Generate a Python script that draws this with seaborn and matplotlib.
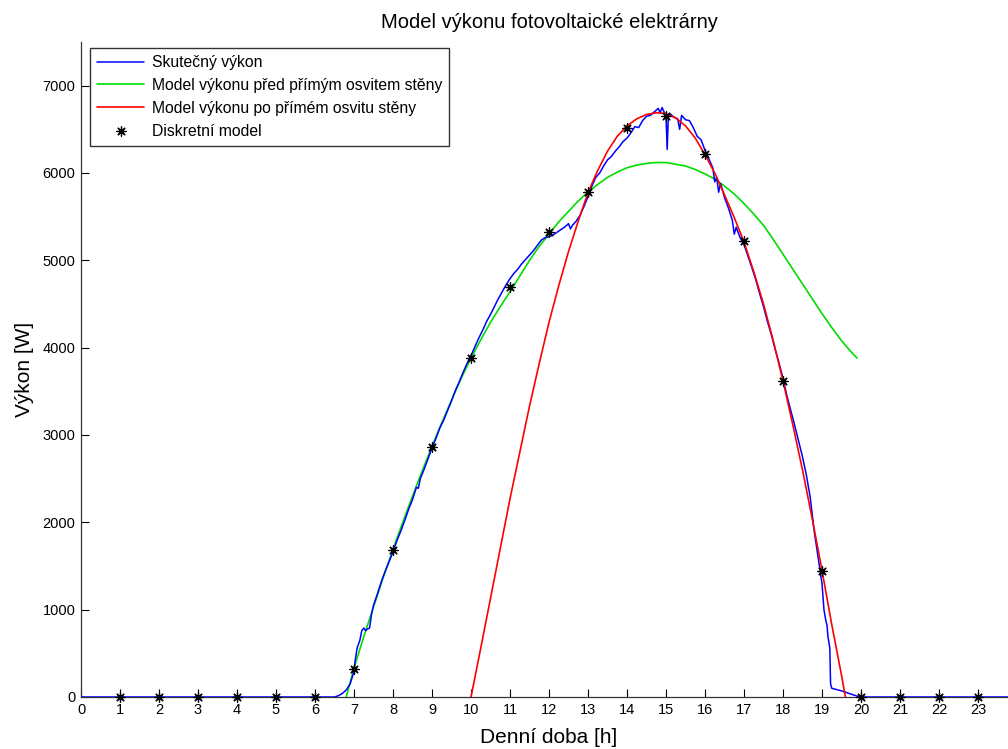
import matplotlib
matplotlib.use("Agg")
import matplotlib.pyplot as plt
import seaborn as sns

# ---- data ----
actual_h = [0, 6.5, 6.6, 6.7, 6.8, 6.9, 6.95, 7.0, 7.03, 7.08, 7.15, 7.2, 7.25, 7.3, 7.35, 7.4, 7.45, 7.5,
            7.6, 7.7, 7.8, 7.9, 8.0, 8.1, 8.2, 8.3, 8.4, 8.5, 8.6, 8.65, 8.7, 8.8, 8.9, 9.0, 9.1, 9.2, 9.3,
            9.4, 9.5, 9.6, 9.7, 9.8, 9.9, 10.0, 10.1, 10.2, 10.3, 10.4, 10.5, 10.6, 10.7, 10.8, 10.9, 11.0,
            11.1, 11.2, 11.3, 11.4, 11.5, 11.6, 11.7, 11.8, 11.9, 12.0, 12.1, 12.2, 12.3, 12.4, 12.5, 12.55,
            12.6, 12.7, 12.8, 12.9, 13.0, 13.1, 13.2, 13.3, 13.4, 13.5, 13.6, 13.7, 13.8, 13.9, 14.0, 14.1,
            14.2, 14.3, 14.4, 14.5, 14.6, 14.7, 14.8, 14.85, 14.9, 14.95, 15.0, 15.03, 15.06, 15.1, 15.2,
            15.3, 15.35, 15.4, 15.5, 15.6, 15.7, 15.8, 15.9, 16.0, 16.1, 16.2, 16.25, 16.3, 16.35, 16.4,
            16.5, 16.6, 16.7, 16.75, 16.8, 16.9, 17.0, 17.1, 17.2, 17.3, 17.4, 17.5, 17.6, 17.7, 17.8, 17.9,
            18.0, 18.1, 18.2, 18.3, 18.4, 18.5, 18.6, 18.7, 18.8, 18.9, 19.0, 19.05, 19.1, 19.13, 19.15,
            19.2, 19.22, 19.25, 19.5, 19.7, 19.9, 20.0, 24.0]
actual_w = [0, 0, 15, 40, 80, 150, 220, 290, 420, 560, 650, 760, 790, 760, 780, 790, 950, 1050,
            1180, 1320, 1440, 1550, 1660, 1790, 1900, 2020, 2150, 2260, 2400, 2390, 2500, 2610, 2730, 2850, 2960, 3080, 3170,
            3280, 3390, 3510, 3610, 3720, 3820, 3910, 4010, 4110, 4200, 4300, 4380, 4470, 4560, 4640, 4720, 4790,
            4850, 4900, 4960, 5010, 5060, 5110, 5170, 5230, 5260, 5270, 5290, 5320, 5350, 5380, 5420, 5360,
            5400, 5450, 5520, 5620, 5730, 5850, 5950, 6000, 6080, 6150, 6190, 6250, 6300, 6360, 6400, 6460,
            6530, 6520, 6600, 6650, 6660, 6700, 6740, 6690, 6750, 6700, 6660, 6270, 6650, 6680, 6640,
            6620, 6500, 6660, 6610, 6600, 6520, 6420, 6380, 6260, 6160, 6060, 5900, 5950, 5780, 5880,
            5720, 5600, 5460, 5300, 5380, 5260, 5180, 5050, 4920, 4780, 4620, 4470, 4300, 4150, 3980, 3820,
            3650, 3450, 3280, 3110, 2930, 2750, 2540, 2280, 1900, 1600, 1300, 1000, 870, 820, 700,
            560, 150, 100, 70, 40, 10, 0, 0]

model1_h = [6.8, 7.0, 7.25, 7.5, 7.75, 8.0, 8.25, 8.5, 8.75, 9.0, 9.25, 9.5, 9.75, 10.0, 10.25, 10.5,
            10.75, 11.0, 11.25, 11.5, 11.75, 12.0, 12.25, 12.5, 12.75, 13.0, 13.25, 13.5, 13.75, 14.0,
            14.25, 14.5, 14.75, 15.0, 15.25, 15.5, 15.75, 16.0, 16.25, 16.5, 16.75, 17.0, 17.25, 17.5,
            17.75, 18.0, 18.25, 18.5, 18.75, 19.0, 19.25, 19.5, 19.75, 19.9]
model1_w = [0, 330, 690, 1030, 1370, 1690, 2000, 2300, 2590, 2870, 3140, 3400, 3650, 3880, 4090, 4290,
            4470, 4640, 4820, 5000, 5160, 5300, 5440, 5560, 5680, 5780, 5870, 5950, 6010, 6060,
            6090, 6110, 6120, 6120, 6100, 6080, 6040, 5990, 5930, 5850, 5760, 5650, 5530, 5400,
            5240, 5070, 4900, 4730, 4560, 4390, 4230, 4080, 3950, 3880]

model2_h = [10.0, 10.25, 10.5, 10.75, 11.0, 11.25, 11.5, 11.75, 12.0, 12.25, 12.5, 12.75, 13.0, 13.25,
            13.5, 13.75, 14.0, 14.25, 14.5, 14.75, 15.0, 15.25, 15.5, 15.75, 16.0, 16.25, 16.5, 16.75,
            17.0, 17.25, 17.5, 17.75, 18.0, 18.25, 18.5, 18.75, 19.0, 19.25, 19.5, 19.6]
model2_w = [0, 560, 1130, 1700, 2270, 2800, 3330, 3820, 4290, 4710, 5100, 5450, 5775, 6030,
            6250, 6420, 6540, 6620, 6670, 6690, 6680, 6630, 6540, 6400, 6210, 6000, 5750, 5490,
            5210, 4870, 4500, 4080, 3620, 3120, 2600, 2040, 1450, 830, 250, 0]

discrete_h = [1, 2, 3, 4, 5, 6, 7, 8, 9, 10, 11, 12, 13, 14, 15, 16, 17, 18, 19, 20, 21, 22, 23]
discrete_w = [0, 0, 0, 0, 0, 0, 320, 1684, 2864, 3884, 4697, 5327, 5785, 6518, 6656, 6221, 5224,
              3620, 1443, 0, 0, 0, 0]

labels = ["Skutečný výkon", "Model výkonu před přímým osvitem stěny",
          "Model výkonu po přímém osvitu stěny", "Diskretní model"]
title = "Model výkonu fotovoltaické elektrárny"
xlabel = "Denní doba [h]"
ylabel = "Výkon [W]"

# ---- style ----
sns.set_style("white")
plt.rcParams["font.family"] = ["Liberation Sans", "DejaVu Sans"]
plt.rcParams["text.color"] = "black"
plt.rcParams["axes.labelcolor"] = "black"

fig = plt.figure(figsize=(10.08, 7.49), dpi=100)
W, H = 1008, 749
x0, x1 = 81, 81 + 24 * 39
y0, y1 = 697, 42
ax = fig.add_axes([x0 / W, 1 - y0 / H, (x1 - x0) / W, (y0 - y1) / H])

sns.lineplot(x=actual_h, y=actual_w, ax=ax, color="#0000ff", linewidth=1.1, label=labels[0],
             estimator=None, sort=False, zorder=4)
sns.lineplot(x=model1_h, y=model1_w, ax=ax, color="#00dd00", linewidth=1.2, label=labels[1],
             estimator=None, sort=False, zorder=3)
sns.lineplot(x=model2_h, y=model2_w, ax=ax, color="#ff0000", linewidth=1.2, label=labels[2],
             estimator=None, sort=False, zorder=5)
sns.scatterplot(x=discrete_h, y=discrete_w, ax=ax, marker=(8, 2, 0), s=45, color="k",
                edgecolor="k", linewidth=0.9, label=labels[3], zorder=6, clip_on=False)

ax.set_xlim(0, 24)
ax.set_ylim(0, 7500)
ax.set_xticks(range(0, 24))
ax.set_yticks(range(0, 7001, 1000))
ax.tick_params(direction="in", length=6, width=0.8, colors="k", labelsize=10.5, pad=4,
               bottom=True, left=True)
for s in ["top", "right"]:
    ax.spines[s].set_visible(False)
for s in ["left", "bottom"]:
    ax.spines[s].set_color("#333333")
    ax.spines[s].set_linewidth(0.9)

ax.set_title(title, fontsize=14.5, pad=10, color="black")
ax.set_xlabel(xlabel, fontsize=15, labelpad=8)
ax.set_ylabel(ylabel, fontsize=15, labelpad=6)

leg = ax.legend(loc="upper left", bbox_to_anchor=(90 / W, 1 - 48 / H), bbox_transform=fig.transFigure,
                borderaxespad=0, frameon=True, fancybox=False, fontsize=11.3, handlelength=3.0,
                handletextpad=0.5, labelspacing=0.5, borderpad=0.45)
leg.get_frame().set_edgecolor("k")
leg.get_frame().set_linewidth(1.0)

fig.savefig("out.png", dpi=100)
